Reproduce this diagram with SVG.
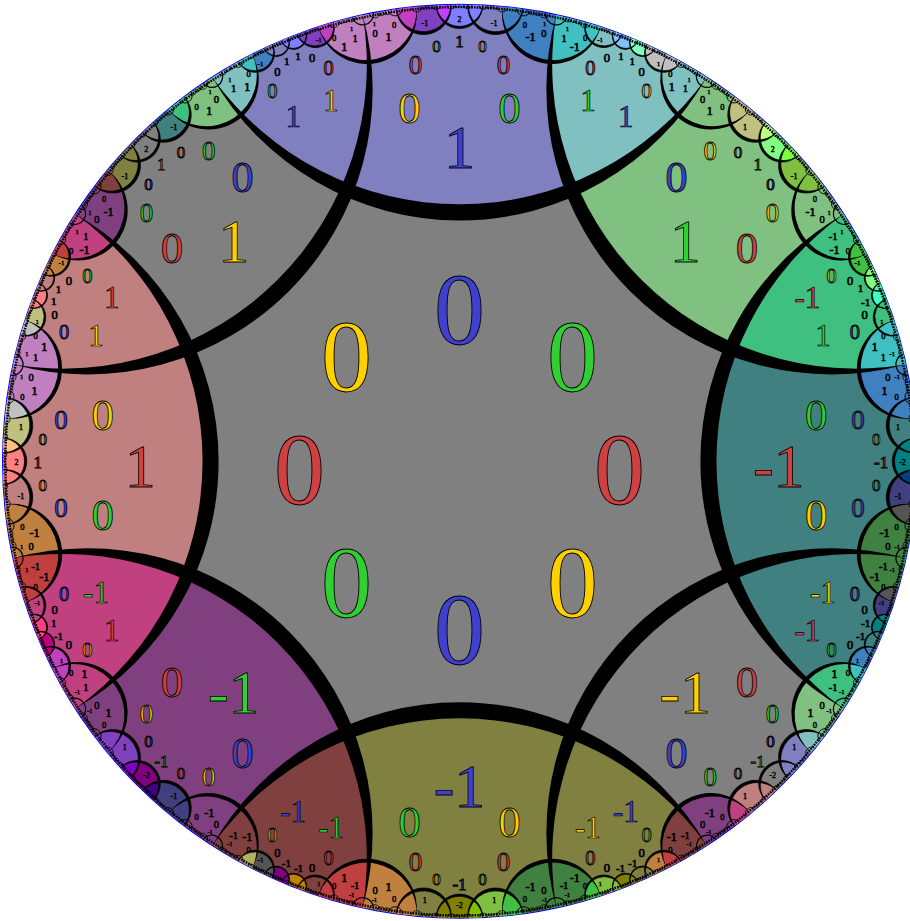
<svg xmlns="http://www.w3.org/2000/svg" width="910" height="921" viewBox="0 0 910 921">
<style>
text{font-family:"Liberation Serif","Times New Roman",serif;text-anchor:middle;stroke:#000;stroke-width:.7;fill:#111}
.r{fill:#d04040}.g{fill:#30d030}.b{fill:#4040d0}.y{fill:#ffd000}
.f105{font-size:102px}.f105 text{stroke-width:.9}
.f64{font-size:62px}.f64 text{stroke-width:.8}
.f46{font-size:45px}.f46 text{stroke-width:.8}
.f32{font-size:31px}.f32 text{stroke-width:.7}
.f28{font-size:27px}.f28 text{stroke-width:.8}
.f21{font-size:20.5px}.f21 text{stroke-width:.8}
.f17{font-size:17px}.f17 text{stroke-width:.9}
.f12{font-size:12px}.f125{font-size:12.5px}.f11{font-size:11px}.f105b{font-size:10.5px}.f85{font-size:8.5px}.f8{font-size:8px}.f7{font-size:7px}.f65{font-size:6.5px}
.f105b text{stroke-width:.6}.f85 text{stroke-width:.5}
.f65 text,.f7 text,.f8 text{stroke-width:.45}
.t{fill:none;stroke:#000}
.ls{stroke:#000;stroke-width:.7}
</style>
<defs>
<path id="cL" d="M-247.1 -383.9A293.9 293.9 0 0 0 247.1 -383.9A456.5 456.5 0 0 0 -247.1 -383.9Z"/>
<path id="vT" d="M112.43 -271.43A293.9 293.9 0 0 1 96.7 -446.14A456.5 456.5 0 0 1 247.1 -383.9A293.9 293.9 0 0 1 112.43 -271.43Z"/>
<path id="cB" d="M-27.55 -455.67A27.6 27.6 0 0 0 27.55 -455.67A456.5 456.5 0 0 0 -27.55 -455.67Z"/>
<path id="cC" d="M-23.18 -455.91A23.2 23.2 0 0 0 23.18 -455.91A456.5 456.5 0 0 0 -23.18 -455.91Z"/>
<path id="cB2" d="M-18.96 -456.1A19 19 0 0 0 18.96 -456.1A456.5 456.5 0 0 0 -18.96 -456.1Z"/>
<path id="cC2" d="M-13.14 -456.31A13.15 13.15 0 0 0 13.14 -456.31A456.5 456.5 0 0 0 -13.14 -456.31Z"/>
<path id="AR" d="M90.5 -399.4A293.9 293.9 0 0 1 96.7 -446.14A456.5 456.5 0 0 1 141.1 -434.1A50.4 50.4 0 0 1 90.5 -399.4Z"/>
<path id="AL" d="M90.5 -399.4A50.4 50.4 0 0 1 43 -454.5A456.5 456.5 0 0 1 96.7 -446.14A293.9 293.9 0 0 0 90.5 -399.4Z"/>
<path id="oAB" d="M46.6 -430.4A50.4 50.4 0 0 1 43 -454.5A456.5 456.5 0 0 1 63.4 -452.1A27.6 27.6 0 0 1 46.6 -430.4Z"/>
<path id="oBC" d="M14.4 -438.8A27.6 27.6 0 0 1 8.45 -456.4A456.5 456.5 0 0 1 23.2 -455.9A23.2 23.2 0 0 1 14.4 -438.8Z"/>
<path id="oAB2" d="M132.8 -418.5A19 19 0 0 1 126.2 -438.7A456.5 456.5 0 0 1 141.1 -434.1A50.4 50.4 0 0 1 132.8 -418.5Z"/>
<path id="oBC2" d="M155.3 -417.9A13.15 13.15 0 0 1 153.7 -429.8A456.5 456.5 0 0 1 162.2 -426.7A19 19 0 0 1 155.3 -417.9Z"/>
<path id="oCC" d="M171.2 -413.2A13.15 13.15 0 0 1 171.2 -423.2A456.5 456.5 0 0 1 178.2 -420.3A13.15 13.15 0 0 1 171.2 -413.2Z"/>
<path id="lL" d="M-247.1 -383.9A303.96 303.96 0 0 0 247.1 -383.9A285 285 0 0 1 -247.1 -383.9Z"/>
<path id="lA" d="M-50.09 -453.74A50.7 50.7 0 0 0 50.09 -453.74A50.2 50.2 0 0 1 -50.09 -453.74Z"/>
<path id="lB" class="ls" d="M-27.55 -455.67A27.72 27.72 0 0 0 27.55 -455.67A27.55 27.55 0 0 1 -27.55 -455.67Z"/>
<path id="lC" class="ls" d="M-23.18 -455.91A23.3 23.3 0 0 0 23.18 -455.91A23.18 23.18 0 0 1 -23.18 -455.91Z"/>
<path id="lB2" class="ls" d="M-18.96 -456.1A19.04 19.04 0 0 0 18.96 -456.1A18.96 18.96 0 0 1 -18.96 -456.1Z"/>
<path id="lC2" class="ls" d="M-13.14 -456.31A13.18 13.18 0 0 0 13.14 -456.31A13.14 13.14 0 0 1 -13.14 -456.31Z"/>
<path id="t1" class="t" stroke-width="1.2" d="M-10.83 -456.4A10.9 10.9 0 0 0 10.83 -456.4"/>
<path id="t2" class="t" stroke-width=".9" d="M-7.25 -456.45A7.3 7.3 0 0 0 7.25 -456.45"/>
<path id="t3" class="t" stroke-width=".75" d="M-5.58 -456.45A5.6 5.6 0 0 0 5.58 -456.45"/>
<path id="t4" class="t" stroke-width=".7" d="M-4.38 -456.45A4.4 4.4 0 0 0 4.38 -456.45"/>
<path id="t5" class="t" stroke-width=".65" d="M-3.58 -456.45A3.6 3.6 0 0 0 3.58 -456.45"/>
<path id="t6" class="t" stroke-width=".6" d="M-2.8 -456.45A2.82 2.82 0 0 0 2.8 -456.45"/>
<path id="t7" class="t" stroke-width=".6" d="M-1.99 -456.45A2 2 0 0 0 1.99 -456.45"/>
<g id="half">
<use href="#lA" transform="rotate(11.7)"/><use href="#lB" transform="rotate(4.52)"/><use href="#lB2" transform="rotate(18.43)"/><use href="#lC2" transform="rotate(21.33)"/>
<use href="#t2" transform="rotate(8.09)"/><use href="#t4" transform="rotate(9.15)"/><use href="#t4" transform="rotate(9.89)"/><use href="#t3" transform="rotate(10.71)"/><use href="#t1" transform="rotate(12.215)"/><use href="#t4" transform="rotate(13.7)"/><use href="#t5" transform="rotate(14.44)"/><use href="#t5" transform="rotate(15.08)"/><use href="#t3" transform="rotate(15.96)"/>
<use href="#t4" transform="rotate(2.97)"/><use href="#t6" transform="rotate(3.66)"/><use href="#t7" transform="rotate(4.1)"/><use href="#t6" transform="rotate(4.57)"/><use href="#t3" transform="rotate(5.37)"/>
<use href="#t5" transform="rotate(19.5)"/><use href="#t7" transform="rotate(19.03)"/><use href="#t7" transform="rotate(18.72)"/><use href="#t7" transform="rotate(18.4)"/><use href="#t5" transform="rotate(17.85)"/>
<use href="#t6" transform="rotate(20.75)"/><use href="#t7" transform="rotate(21.11)"/><use href="#t7" transform="rotate(21.55)"/><use href="#t6" transform="rotate(21.9)"/>
</g>
<g id="oct">
<use href="#half"/><use href="#half" transform="rotate(45) scale(-1 1)"/>
<use href="#lC"/><use href="#t4" transform="rotate(-1.02)"/><use href="#t4" transform="rotate(1.02)"/><use href="#t6" transform="rotate(-.39)"/><use href="#t6" transform="rotate(.39)"/>
</g>
</defs>
<g id="disc" transform="translate(459.5 461.3)">
<circle r="456.5" fill="#808080" stroke="#0000ff" stroke-width="2"/>
<g id="edge-tiles">
<use href="#cL" fill="#8080c0"/><use href="#cL" transform="rotate(45)" fill="#80c080"/><use href="#cL" transform="rotate(90)" fill="#408080"/><use href="#cL" transform="rotate(135)" fill="#808080"/><use href="#cL" transform="rotate(180)" fill="#808040"/><use href="#cL" transform="rotate(225)" fill="#804080"/><use href="#cL" transform="rotate(270)" fill="#c08080"/><use href="#cL" transform="rotate(315)" fill="#808080"/>
</g>
<g id="vertex-tiles">
<use href="#vT" fill="#80c0c0"/><use href="#vT" transform="rotate(45)" fill="#40c080"/><use href="#vT" transform="rotate(90)" fill="#408080"/><use href="#vT" transform="rotate(135)" fill="#808040"/><use href="#vT" transform="rotate(180)" fill="#804040"/><use href="#vT" transform="rotate(225)" fill="#c04080"/><use href="#vT" transform="rotate(270)" fill="#c08080"/><use href="#vT" transform="rotate(315)" fill="#8080c0"/>
</g>
<g id="small-lobes">
<use href="#cB" transform="rotate(-4.52)" fill="#8040c0"/><use href="#cC" fill="#8080ff"/><use href="#cB" transform="rotate(4.52)" fill="#8080c0"/>
<use href="#cB" transform="rotate(40.48)" fill="#c0c080"/><use href="#cC" transform="rotate(45)" fill="#80ff80"/><use href="#cB" transform="rotate(49.52)" fill="#80c040"/>
<use href="#cB" transform="rotate(85.48)" fill="#408080"/><use href="#cC" transform="rotate(90)" fill="#008080"/><use href="#cB" transform="rotate(94.52)" fill="#404080"/>
<use href="#cB" transform="rotate(130.48)" fill="#8080c0"/><use href="#cC" transform="rotate(135)" fill="#808080"/><use href="#cB" transform="rotate(139.52)" fill="#c08080"/>
<use href="#cB" transform="rotate(175.48)" fill="#80c040"/><use href="#cC" transform="rotate(180)" fill="#808000"/><use href="#cB" transform="rotate(184.52)" fill="#808040"/>
<use href="#cB" transform="rotate(220.48)" fill="#404080"/><use href="#cC" transform="rotate(225)" fill="#800080"/><use href="#cB" transform="rotate(229.52)" fill="#8040c0"/>
<use href="#cB" transform="rotate(265.48)" fill="#c08080"/><use href="#cC" transform="rotate(270)" fill="#ff8080"/><use href="#cB" transform="rotate(274.52)" fill="#c0c080"/>
<use href="#cB" transform="rotate(310.48)" fill="#808040"/><use href="#cC" transform="rotate(315)" fill="#808080"/><use href="#cB" transform="rotate(319.52)" fill="#408080"/>

<use href="#cB2" transform="rotate(18.43)" fill="#80c0c0"/><use href="#cC2" transform="rotate(21.33)" fill="#80c0ff"/><use href="#cC2" transform="rotate(23.67)" fill="#80ffc0"/><use href="#cB2" transform="rotate(26.57)" fill="#c0c0c0"/>
<use href="#cB2" transform="rotate(63.43)" fill="#40c040"/><use href="#cC2" transform="rotate(66.33)" fill="#80ff80"/><use href="#cC2" transform="rotate(68.67)" fill="#40ffc0"/><use href="#cB2" transform="rotate(71.57)" fill="#40c080"/>
<use href="#cB2" transform="rotate(108.43)" fill="#404080"/><use href="#cC2" transform="rotate(111.33)" fill="#008080"/><use href="#cC2" transform="rotate(113.67)" fill="#408080"/><use href="#cB2" transform="rotate(116.57)" fill="#4080c0"/>
<use href="#cB2" transform="rotate(153.43)" fill="#c08040"/><use href="#cC2" transform="rotate(156.33)" fill="#808040"/><use href="#cC2" transform="rotate(158.67)" fill="#808000"/><use href="#cB2" transform="rotate(161.57)" fill="#80c040"/>
<use href="#cB2" transform="rotate(198.43)" fill="#804040"/><use href="#cC2" transform="rotate(201.33)" fill="#c08000"/><use href="#cC2" transform="rotate(203.67)" fill="#800080"/><use href="#cB2" transform="rotate(206.57)" fill="#555555"/>
<use href="#cB2" transform="rotate(243.43)" fill="#c040c0"/><use href="#cC2" transform="rotate(246.33)" fill="#c00080"/><use href="#cC2" transform="rotate(248.67)" fill="#ff4080"/><use href="#cB2" transform="rotate(251.57)" fill="#c04080"/>
<use href="#cB2" transform="rotate(288.43)" fill="#c0c080"/><use href="#cC2" transform="rotate(291.33)" fill="#ff8080"/><use href="#cC2" transform="rotate(293.67)" fill="#c08080"/><use href="#cB2" transform="rotate(296.57)" fill="#c08040"/>
<use href="#cB2" transform="rotate(333.43)" fill="#4080c0"/><use href="#cC2" transform="rotate(336.33)" fill="#8080c0"/><use href="#cC2" transform="rotate(338.67)" fill="#8080ff"/><use href="#cB2" transform="rotate(341.57)" fill="#8040c0"/>
</g>
<g id="big-lobes">
<use href="#AL" fill="#4080c0"/><use href="#AR" fill="#40c0c0"/>
<use href="#AR" transform="rotate(45) scale(-1 1)" fill="#80c0c0"/><use href="#AL" transform="rotate(45) scale(-1 1)" fill="#80c080"/>
<use href="#AL" transform="rotate(45)" fill="#80c080"/><use href="#AR" transform="rotate(45)" fill="#40c080"/>
<use href="#AR" transform="rotate(90) scale(-1 1)" fill="#40c0c0"/><use href="#AL" transform="rotate(90) scale(-1 1)" fill="#4080c0"/>
<use href="#AL" transform="rotate(90)" fill="#408040"/><use href="#AR" transform="rotate(90)" fill="#408040"/>
<use href="#AR" transform="rotate(135) scale(-1 1)" fill="#40c080"/><use href="#AL" transform="rotate(135) scale(-1 1)" fill="#80c080"/>
<use href="#AL" transform="rotate(135)" fill="#804080"/><use href="#AR" transform="rotate(135)" fill="#804040"/>
<use href="#AR" transform="rotate(180) scale(-1 1)" fill="#408040"/><use href="#AL" transform="rotate(180) scale(-1 1)" fill="#408040"/>
<use href="#AL" transform="rotate(180)" fill="#c08040"/><use href="#AR" transform="rotate(180)" fill="#c04040"/>
<use href="#AR" transform="rotate(225) scale(-1 1)" fill="#804040"/><use href="#AL" transform="rotate(225) scale(-1 1)" fill="#804080"/>
<use href="#AL" transform="rotate(225)" fill="#804080"/><use href="#AR" transform="rotate(225)" fill="#c04080"/>
<use href="#AR" transform="rotate(270) scale(-1 1)" fill="#c04040"/><use href="#AL" transform="rotate(270) scale(-1 1)" fill="#c08040"/>
<use href="#AL" transform="rotate(270)" fill="#c080c0"/><use href="#AR" transform="rotate(270)" fill="#c080c0"/>
<use href="#AR" transform="rotate(315) scale(-1 1)" fill="#c04080"/><use href="#AL" transform="rotate(315) scale(-1 1)" fill="#804080"/>
<use href="#AL" transform="rotate(315)" fill="#80c080"/><use href="#AR" transform="rotate(315)" fill="#80c0c0"/>
<use href="#AR" transform="scale(-1 1)" fill="#c080c0"/><use href="#AL" transform="scale(-1 1)" fill="#c080c0"/>
</g>
<g id="overlaps">
<use href="#oAB" transform="scale(-1 1)" fill="#c040c0"/><use href="#oBC" transform="scale(-1 1)" fill="#c040ff"/><use href="#oBC" fill="#8080ff"/><use href="#oAB" fill="#4080c0"/>
<use href="#oAB" transform="rotate(45) scale(-1 1)" fill="#c0c080"/><use href="#oBC" transform="rotate(45) scale(-1 1)" fill="#c0ff80"/><use href="#oBC" transform="rotate(45)" fill="#80ff40"/><use href="#oAB" transform="rotate(45)" fill="#80c040"/>
<use href="#oAB" transform="rotate(90) scale(-1 1)" fill="#4080c0"/><use href="#oBC" transform="rotate(90) scale(-1 1)" fill="#008080"/><use href="#oBC" transform="rotate(90)" fill="#004080"/><use href="#oAB" transform="rotate(90)" fill="#555555"/>
<use href="#oAB" transform="rotate(135) scale(-1 1)" fill="#80c0c0"/><use href="#oBC" transform="rotate(135) scale(-1 1)" fill="#8080c0"/><use href="#oBC" transform="rotate(135)" fill="#c08080"/><use href="#oAB" transform="rotate(135)" fill="#c04080"/>
<use href="#oAB" transform="rotate(180) scale(-1 1)" fill="#40c040"/><use href="#oBC" transform="rotate(180) scale(-1 1)" fill="#80c000"/><use href="#oBC" transform="rotate(180)" fill="#808000"/><use href="#oAB" transform="rotate(180)" fill="#c08040"/>
<use href="#oAB" transform="rotate(225) scale(-1 1)" fill="#404080"/><use href="#oBC" transform="rotate(225) scale(-1 1)" fill="#400080"/><use href="#oBC" transform="rotate(225)" fill="#8000c0"/><use href="#oAB" transform="rotate(225)" fill="#8040c0"/>
<use href="#oAB" transform="rotate(270) scale(-1 1)" fill="#c08040"/><use href="#oBC" transform="rotate(270) scale(-1 1)" fill="#ff8080"/><use href="#oBC" transform="rotate(270)" fill="#ffc080"/><use href="#oAB" transform="rotate(270)" fill="#c0c0c0"/>
<use href="#oAB" transform="rotate(315) scale(-1 1)" fill="#804040"/><use href="#oBC" transform="rotate(315) scale(-1 1)" fill="#808040"/><use href="#oBC" transform="rotate(315)" fill="#808080"/><use href="#oAB" transform="rotate(315)" fill="#40c080"/>

<use href="#oAB2" fill="#40c0c0"/><use href="#oBC2" fill="#80c0ff"/><use href="#oCC" fill="#80ffc0"/><use href="#oAB2" transform="rotate(45) scale(-1 1)" fill="#c0c0c0"/><use href="#oBC2" transform="rotate(45) scale(-1 1)" fill="#c0c0c0"/>
<use href="#oAB2" transform="rotate(45)" fill="#40c040"/><use href="#oBC2" transform="rotate(45)" fill="#80ff80"/><use href="#oCC" transform="rotate(45)" fill="#40ffc0"/><use href="#oAB2" transform="rotate(90) scale(-1 1)" fill="#40c0c0"/><use href="#oBC2" transform="rotate(90) scale(-1 1)" fill="#40c080"/>
<use href="#oAB2" transform="rotate(90)" fill="#555555"/><use href="#oBC2" transform="rotate(90)" fill="#008080"/><use href="#oCC" transform="rotate(90)" fill="#408080"/><use href="#oAB2" transform="rotate(135) scale(-1 1)" fill="#40c0c0"/><use href="#oBC2" transform="rotate(135) scale(-1 1)" fill="#4080c0"/>
<use href="#oAB2" transform="rotate(135)" fill="#c04040"/><use href="#oBC2" transform="rotate(135)" fill="#808040"/><use href="#oCC" transform="rotate(135)" fill="#808000"/><use href="#oAB2" transform="rotate(180) scale(-1 1)" fill="#40c040"/><use href="#oBC2" transform="rotate(180) scale(-1 1)" fill="#80c040"/>
<use href="#oAB2" transform="rotate(180)" fill="#c04040"/><use href="#oBC2" transform="rotate(180)" fill="#c08000"/><use href="#oCC" transform="rotate(180)" fill="#800080"/><use href="#oAB2" transform="rotate(225) scale(-1 1)" fill="#b0b060"/><use href="#oBC2" transform="rotate(225) scale(-1 1)" fill="#555555"/>
<use href="#oAB2" transform="rotate(225)" fill="#c040c0"/><use href="#oBC2" transform="rotate(225)" fill="#c00080"/><use href="#oCC" transform="rotate(225)" fill="#ff4080"/><use href="#oAB2" transform="rotate(270) scale(-1 1)" fill="#c04040"/><use href="#oBC2" transform="rotate(270) scale(-1 1)" fill="#c04080"/>
<use href="#oAB2" transform="rotate(270)" fill="#c0c0c0"/><use href="#oBC2" transform="rotate(270)" fill="#ff8080"/><use href="#oCC" transform="rotate(270)" fill="#c08080"/><use href="#oAB2" transform="rotate(315) scale(-1 1)" fill="#c04040"/><use href="#oBC2" transform="rotate(315) scale(-1 1)" fill="#c08040"/>
<use href="#oAB2" transform="rotate(315)" fill="#40c0c0"/><use href="#oBC2" transform="rotate(315)" fill="#8080c0"/><use href="#oCC" transform="rotate(315)" fill="#8080ff"/><use href="#oAB2" transform="rotate(360) scale(-1 1)" fill="#c040c0"/><use href="#oBC2" transform="rotate(360) scale(-1 1)" fill="#8040c0"/>
</g>
<g id="connectors" fill="#000">
<use href="#oct"/><use href="#oct" transform="rotate(45)"/><use href="#oct" transform="rotate(90)"/><use href="#oct" transform="rotate(135)"/><use href="#oct" transform="rotate(180)"/><use href="#oct" transform="rotate(225)"/><use href="#oct" transform="rotate(270)"/><use href="#oct" transform="rotate(315)"/>
<use href="#lL"/><use href="#lL" transform="rotate(45)"/><use href="#lL" transform="rotate(90)"/><use href="#lL" transform="rotate(135)"/><use href="#lL" transform="rotate(180)"/><use href="#lL" transform="rotate(225)"/><use href="#lL" transform="rotate(270)"/><use href="#lL" transform="rotate(315)"/>
</g>
<circle id="rim" r="454.2" fill="none" stroke="#000" stroke-width="2.4" stroke-dasharray="1.6 1.1"/>
</g>
<g id="labels">
<g class="f105" transform="translate(459.5 504.3)">
<text class="b" x="0" y="-160">0</text><text class="y" x="-113.1" y="-113.1">0</text><text class="g" x="113.1" y="-113.1">0</text><text class="r" x="-160" y="0">0</text><text class="r" x="160" y="0">0</text><text class="g" x="-113.1" y="113.1">0</text><text class="y" x="113.1" y="113.1">0</text><text class="b" x="0" y="160">0</text>
</g>
<g class="f64" transform="translate(459.5 487.3)">
<text class="b" x="0" y="-319.3">1</text><text class="g" x="225.8" y="-225.8">1</text><text class="r" x="319.3" y="0">-1</text><text class="y" x="225.8" y="225.8">-1</text><text class="b" x="0" y="319.3">-1</text><text class="g" x="-225.8" y="225.8">-1</text><text class="r" x="-319.3" y="0">1</text><text class="y" x="-225.8" y="-225.8">1</text>
</g>
<g class="f46" transform="translate(459.5 480)">
<text class="y" x="-50" y="-356.7">0</text><text class="g" x="50" y="-356.7">0</text><text class="b" x="216.9" y="-287.6">0</text><text class="r" x="287.6" y="-216.9">0</text><text class="g" x="356.7" y="-50">0</text><text class="y" x="356.7" y="50">0</text><text class="r" x="287.6" y="216.9">0</text><text class="b" x="216.9" y="287.6">0</text><text class="y" x="50" y="356.7">0</text><text class="g" x="-50" y="356.7">0</text><text class="b" x="-216.9" y="287.6">0</text><text class="r" x="-287.6" y="216.9">0</text><text class="g" x="-356.7" y="50">0</text><text class="y" x="-356.7" y="-50">0</text><text class="r" x="-287.6" y="-216.9">0</text><text class="b" x="-216.9" y="-287.6">0</text>
</g>
<g class="f28" transform="translate(459.5 472.8)">
<text class="r" x="-44" y="-398.5">0</text><text class="r" x="44" y="-398.5">0</text><text class="y" x="250.7" y="-312.9">0</text><text class="y" x="312.9" y="-250.7">0</text><text class="b" x="398.5" y="-44">0</text><text class="b" x="398.5" y="44">0</text><text class="g" x="312.9" y="250.7">0</text><text class="g" x="250.7" y="312.9">0</text><text class="r" x="44" y="398.5">0</text><text class="r" x="-44" y="398.5">0</text><text class="y" x="-250.7" y="312.9">0</text><text class="y" x="-312.9" y="250.7">0</text><text class="b" x="-398.5" y="44">0</text><text class="b" x="-398.5" y="-44">0</text><text class="g" x="-312.9" y="-250.7">0</text><text class="g" x="-250.7" y="-312.9">0</text>
</g>
<g class="f17" transform="translate(459.5 468.4)">
<text class="g" x="-23" y="-416.7">0</text><text class="y" x="23" y="-416.7">0</text><text class="b" x="0" y="-421.7">1</text>
<text class="r" x="278.4" y="-310.9">0</text><text class="b" x="310.9" y="-278.4">0</text><text class="g" x="298.2" y="-298.2">1</text>
<text class="y" x="416.7" y="-23">0</text><text class="g" x="416.7" y="23">0</text><text class="r" x="421.7" y="0">-1</text>
<text class="b" x="310.9" y="278.4">0</text><text class="r" x="278.4" y="310.9">0</text><text class="y" x="298.2" y="298.2">-1</text>
<text class="g" x="23" y="416.7">0</text><text class="y" x="-23" y="416.7">0</text><text class="b" x="0" y="421.7">-1</text>
<text class="r" x="-278.4" y="310.9">0</text><text class="b" x="-310.9" y="278.4">0</text><text class="g" x="-298.2" y="298.2">-1</text>
<text class="y" x="-416.7" y="23">0</text><text class="g" x="-416.7" y="-23">0</text><text class="r" x="-421.7" y="0">1</text>
<text class="b" x="-310.9" y="-278.4">0</text><text class="r" x="-278.4" y="-310.9">0</text><text class="y" x="-298.2" y="-298.2">1</text>
</g>
<g class="f32" transform="translate(459.5 474.5)">
<text class="g" x="128.4" y="-363.5">1</text><text class="b" x="166.3" y="-347.8">1</text><text class="r" x="347.8" y="-166.3">-1</text><text class="g" x="363.5" y="-128.4">1</text><text class="y" x="363.5" y="128.4">-1</text><text class="r" x="347.8" y="166.3">-1</text><text class="b" x="166.3" y="347.8">-1</text><text class="y" x="128.4" y="363.5">-1</text><text class="g" x="-128.4" y="363.5">-1</text><text class="b" x="-166.3" y="347.8">-1</text><text class="r" x="-347.8" y="166.3">1</text><text class="g" x="-363.5" y="128.4">-1</text><text class="y" x="-363.5" y="-128.4">1</text><text class="r" x="-347.8" y="-166.3">1</text><text class="b" x="-166.3" y="-347.8">1</text><text class="y" x="-128.4" y="-363.5">1</text>
</g>
<g class="f21" transform="translate(459.5 470)">
<text class="r" x="130.8" y="-395.4">0</text><text class="y" x="187.1" y="-372.1">0</text><text class="y" x="372.1" y="-187.1">0</text><text class="b" x="395.4" y="-130.8">0</text><text class="b" x="395.4" y="130.8">0</text><text class="g" x="372.1" y="187.1">0</text><text class="g" x="187.1" y="372.1">0</text><text class="r" x="130.8" y="395.4">0</text><text class="r" x="-130.8" y="395.4">0</text><text class="y" x="-187.1" y="372.1">0</text><text class="y" x="-372.1" y="187.1">0</text><text class="b" x="-395.4" y="130.8">0</text><text class="b" x="-395.4" y="-130.8">0</text><text class="g" x="-372.1" y="-187.1">0</text><text class="g" x="-187.1" y="-372.1">0</text><text class="r" x="-130.8" y="-395.4">0</text>
</g>
<g class="f125" transform="translate(459.5 466.6)">
<text x="147.4" y="-405">0</text><text x="182.1" y="-390.6">0</text><text x="390.6" y="-182.1">0</text><text x="405" y="-147.4">0</text><text x="405" y="147.4">0</text><text x="390.6" y="182.1">0</text><text x="182.1" y="390.6">0</text><text x="147.4" y="405">0</text><text x="-147.4" y="405">0</text><text x="-182.1" y="390.6">0</text><text x="-390.6" y="182.1">0</text><text x="-405" y="147.4">0</text><text x="-405" y="-147.4">0</text><text x="-390.6" y="-182.1">0</text><text x="-182.1" y="-390.6">0</text><text x="-147.4" y="-405">0</text>
</g>
<g class="f11" transform="translate(459.5 466)">
<text x="161.5" y="-405.7">1</text><text x="172.7" y="-401.1">1</text><text x="401.1" y="-173.7">1</text><text x="406.2" y="-160.5">-1</text><text x="406.2" y="160.5">-1</text><text x="401.1" y="173.7">-1</text><text x="173.2" y="401.1">-1</text><text x="161" y="405.7">-1</text><text x="-161" y="405.7">-1</text><text x="-173.2" y="401.1">-1</text><text x="-405.7" y="160.5">1</text><text x="-401.1" y="173.7">-1</text><text x="-405.7" y="-161.5">1</text><text x="-401.1" y="-172.7">1</text><text x="-172.7" y="-401.1">1</text><text x="-161.5" y="-405.7">1</text>
</g>
<g class="f12" transform="translate(459.5 466.3)">
<text x="71.1" y="-425.1">-1</text><text x="115.2" y="-415.3">-1</text><text x="212.2" y="-375.1">1</text><text x="250.3" y="-350.9">1</text><text x="350.9" y="-250.3">-1</text><text x="375.1" y="-212.2">-1</text><text x="415.3" y="-115.2">1</text><text x="425.1" y="-71.1">1</text><text x="425.1" y="71.1">-1</text><text x="415.3" y="115.2">-1</text><text x="375.1" y="212.2">1</text><text x="350.9" y="250.3">1</text><text x="250.3" y="350.9">-1</text><text x="212.2" y="375.1">-1</text><text x="115.2" y="415.3">-1</text><text x="71.1" y="425.1">-1</text><text x="-71.1" y="425.1">1</text><text x="-115.2" y="415.3">1</text><text x="-212.2" y="375.1">-1</text><text x="-250.3" y="350.9">-1</text><text x="-350.9" y="250.3">1</text><text x="-375.1" y="212.2">1</text><text x="-415.3" y="115.2">-1</text><text x="-425.1" y="71.1">-1</text><text x="-425.1" y="-71.1">1</text><text x="-415.3" y="-115.2">1</text><text x="-375.1" y="-212.2">-1</text><text x="-350.9" y="-250.3">-1</text><text x="-250.3" y="-350.9">1</text><text x="-212.2" y="-375.1">1</text><text x="-115.2" y="-415.3">1</text><text x="-71.1" y="-425.1">1</text>
</g>
<g class="f105b" transform="translate(459.5 465.7)">
<text x="84.4" y="-428.3">0</text><text x="104.5" y="-423.8">1</text><text x="225.8" y="-373.6">1</text><text x="243.1" y="-362.6">0</text><text x="362.6" y="-243.1">0</text><text x="373.6" y="-225.8">-1</text><text x="423.8" y="-104.5">1</text><text x="428.3" y="-84.4">0</text><text x="428.3" y="84.4">0</text><text x="423.8" y="104.5">-1</text><text x="373.6" y="225.8">-1</text><text x="362.6" y="243.1">0</text><text x="243.1" y="362.6">0</text><text x="225.8" y="373.6">-1</text><text x="104.5" y="423.8">-1</text><text x="84.4" y="428.3">0</text><text x="-84.4" y="428.3">0</text><text x="-104.5" y="423.8">-1</text><text x="-225.8" y="373.6">-1</text><text x="-243.1" y="362.6">0</text><text x="-362.6" y="243.1">0</text><text x="-373.6" y="225.8">1</text><text x="-423.8" y="104.5">-1</text><text x="-428.3" y="84.4">0</text><text x="-428.3" y="-84.4">0</text><text x="-423.8" y="-104.5">1</text><text x="-373.6" y="-225.8">1</text><text x="-362.6" y="-243.1">0</text><text x="-243.1" y="-362.6">0</text><text x="-225.8" y="-373.6">1</text><text x="-104.5" y="-423.8">1</text><text x="-84.4" y="-428.3">0</text>
</g>
<g class="f85" transform="translate(459.5 464.9)">
<text x="65.3" y="-437.2">0</text><text x="125.5" y="-423.8">0</text><text x="210.9" y="-388.4">0</text><text x="262.9" y="-355.3">0</text><text x="355.3" y="-262.9">0</text><text x="388.4" y="-210.9">0</text><text x="423.8" y="-125.5">0</text><text x="437.2" y="-65.3">0</text><text x="437.2" y="65.3">0</text><text x="423.8" y="125.5">0</text><text x="388.4" y="210.9">0</text><text x="355.3" y="262.9">0</text><text x="262.9" y="355.3">0</text><text x="210.9" y="388.4">0</text><text x="125.5" y="423.8">0</text><text x="65.3" y="437.2">0</text><text x="-65.3" y="437.2">0</text><text x="-125.5" y="423.8">0</text><text x="-210.9" y="388.4">0</text><text x="-262.9" y="355.3">0</text><text x="-355.3" y="262.9">0</text><text x="-388.4" y="210.9">0</text><text x="-423.8" y="125.5">0</text><text x="-437.2" y="65.3">0</text><text x="-437.2" y="-65.3">0</text><text x="-423.8" y="-125.5">0</text><text x="-388.4" y="-210.9">0</text><text x="-355.3" y="-262.9">0</text><text x="-262.9" y="-355.3">0</text><text x="-210.9" y="-388.4">0</text><text x="-125.5" y="-423.8">0</text><text x="-65.3" y="-437.2">0</text>
</g>
<g class="f65" transform="translate(459.5 464)">
<text x="85.1" y="-437.8">1</text><text x="107.9" y="-432.7">1</text><text x="229.7" y="-382.3">1</text><text x="249.4" y="-369.7">1</text><text x="369.7" y="-249.4">1</text><text x="382.3" y="-229.7">1</text><text x="432.7" y="-107.9">-1</text><text x="437.8" y="-85.1">-1</text><text x="437.8" y="85.1">-1</text><text x="432.7" y="107.9">-1</text><text x="382.3" y="229.7">-1</text><text x="369.7" y="249.4">-1</text><text x="249.4" y="369.7">-1</text><text x="229.7" y="382.3">-1</text><text x="107.9" y="432.7">-1</text><text x="85.1" y="437.8">-1</text><text x="-85.1" y="437.8">-1</text><text x="-107.9" y="432.7">-1</text><text x="-229.7" y="382.3">-1</text><text x="-249.4" y="369.7">-1</text><text x="-369.7" y="249.4">-1</text><text x="-382.3" y="229.7">-1</text><text x="-432.7" y="107.9">1</text><text x="-437.8" y="85.1">1</text><text x="-437.8" y="-85.1">1</text><text x="-432.7" y="-107.9">1</text><text x="-382.3" y="-229.7">1</text><text x="-369.7" y="-249.4">1</text><text x="-249.4" y="-369.7">1</text><text x="-229.7" y="-382.3">1</text><text x="-107.9" y="-432.7">1</text><text x="-85.1" y="-437.8">1</text>
</g>
<g class="f8" transform="translate(459.5 464.7)">
<text x="-34.7" y="-438.6">-1</text><text x="0" y="-443">2</text><text x="34.7" y="-438.6">-1</text>
<text x="285.6" y="-334.7">1</text><text x="313.2" y="-313.2">2</text><text x="334.7" y="-285.6">-1</text>
<text x="438.6" y="-34.7">1</text><text x="443" y="0">-2</text><text x="438.6" y="34.7">-1</text>
<text x="334.7" y="285.6">1</text><text x="313.2" y="313.2">-2</text><text x="285.6" y="334.7">1</text>
<text x="34.7" y="438.6">1</text><text x="0" y="443">-2</text><text x="-34.7" y="438.6">1</text>
<text x="-285.6" y="334.7">-1</text><text x="-313.2" y="313.2">-2</text><text x="-334.7" y="285.6">1</text>
<text x="-438.6" y="34.7">-1</text><text x="-443" y="0">2</text><text x="-438.6" y="-34.7">1</text>
<text x="-334.7" y="-285.6">-1</text><text x="-313.2" y="-313.2">2</text><text x="-285.6" y="-334.7">-1</text>
</g>
<g class="f7" transform="translate(459.5 464.2)">
<text x="140.7" y="-422.2">-1</text><text x="199" y="-398">1</text><text x="398" y="-199">-1</text><text x="422.2" y="-140.7">1</text><text x="422.2" y="140.7">-1</text><text x="398" y="199">1</text><text x="199" y="398">1</text><text x="140.7" y="422.2">1</text><text x="-140.7" y="422.2">1</text><text x="-199" y="398">-1</text><text x="-398" y="199">1</text><text x="-422.2" y="140.7">-1</text><text x="-422.2" y="-140.7">1</text><text x="-398" y="-199">-1</text><text x="-199" y="-398">-1</text><text x="-140.7" y="-422.2">-1</text>
</g>
</g>
</svg>
